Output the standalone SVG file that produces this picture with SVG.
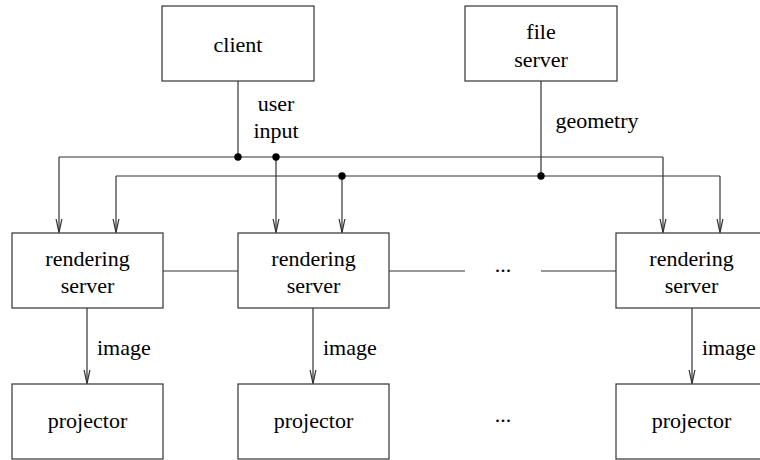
<svg xmlns="http://www.w3.org/2000/svg" width="760" height="460" viewBox="0 0 760 460" font-family="Liberation Serif, Times New Roman, DejaVu Serif, serif" font-size="22">
<style>
.box{fill:#fff;stroke:#333;stroke-width:1.2}
.ln{fill:none;stroke:#333;stroke-width:1.2}
.t{text-anchor:middle}
.dot{fill:#000}
</style>
<defs>
<marker id="arr" markerUnits="userSpaceOnUse" markerWidth="16" markerHeight="10" refX="14" refY="4" orient="auto" viewBox="0 0 16 8">
<path d="M0,1 L14,4 L0,7" fill="none" stroke="#333" stroke-width="1.2"/>
</marker>
</defs>
<g id="connectors">
<path class="ln" d="M238,81 V157"/>
<path class="ln" d="M541,81 V176"/>
<path class="ln" d="M59,157 H663"/>
<path class="ln" d="M116,176 H720"/>
<path class="ln" d="M59,157 V232.5" marker-end="url(#arr)"/>
<path class="ln" d="M276,157 V232.5" marker-end="url(#arr)"/>
<path class="ln" d="M663,157 V232.5" marker-end="url(#arr)"/>
<path class="ln" d="M116,176 V232.5" marker-end="url(#arr)"/>
<path class="ln" d="M342,176 V232.5" marker-end="url(#arr)"/>
<path class="ln" d="M720,176 V232.5" marker-end="url(#arr)"/>
<path class="ln" d="M87,308 V383.5" marker-end="url(#arr)"/>
<path class="ln" d="M313,308 V383.5" marker-end="url(#arr)"/>
<path class="ln" d="M692,308 V383.5" marker-end="url(#arr)"/>
<path class="ln" d="M163,271 H238"/>
<path class="ln" d="M389,271 H465"/>
<path class="ln" d="M541,271 H616"/>
<circle class="dot" cx="238" cy="157" r="3.7"/>
<circle class="dot" cx="276" cy="157" r="3.7"/>
<circle class="dot" cx="342" cy="176" r="3.7"/>
<circle class="dot" cx="541" cy="176" r="3.7"/>
<text class="t" x="276" y="110.5">user</text>
<text class="t" x="276" y="137.5">input</text>
<text class="t" x="597" y="128">geometry</text>
<text x="97" y="355">image</text>
<text x="323" y="355">image</text>
<text x="702" y="355">image</text>
<text class="t" x="503" y="272">...</text>
</g>
<g id="client"><rect class="box" x="162" y="6" width="152" height="75"/><text class="t" x="238" y="52">client</text></g>
<g id="fileserver"><rect class="box" x="465" y="6" width="152" height="75"/><text class="t" x="541" y="39">file</text><text class="t" x="541" y="66.5">server</text></g>
<g id="rs1"><rect class="box" x="12" y="233" width="151" height="75"/><text class="t" x="87.5" y="266">rendering</text><text class="t" x="87.5" y="293">server</text></g>
<g id="rs2"><rect class="box" x="238" y="233" width="151" height="75"/><text class="t" x="313.5" y="266">rendering</text><text class="t" x="313.5" y="293">server</text></g>
<g id="rs3"><rect class="box" x="616" y="233" width="151" height="75"/><text class="t" x="691.5" y="266">rendering</text><text class="t" x="691.5" y="293">server</text></g>
<g id="p1"><rect class="box" x="12" y="384" width="151" height="75"/><text class="t" x="87.5" y="428">projector</text></g>
<g id="p2"><rect class="box" x="238" y="384" width="151" height="75"/><text class="t" x="313.5" y="428">projector</text></g>
<g id="p3"><rect class="box" x="616" y="384" width="151" height="75"/><text class="t" x="691.5" y="428">projector</text></g>
<g id="dots"><text class="t" x="503" y="422">...</text></g>
</svg>
